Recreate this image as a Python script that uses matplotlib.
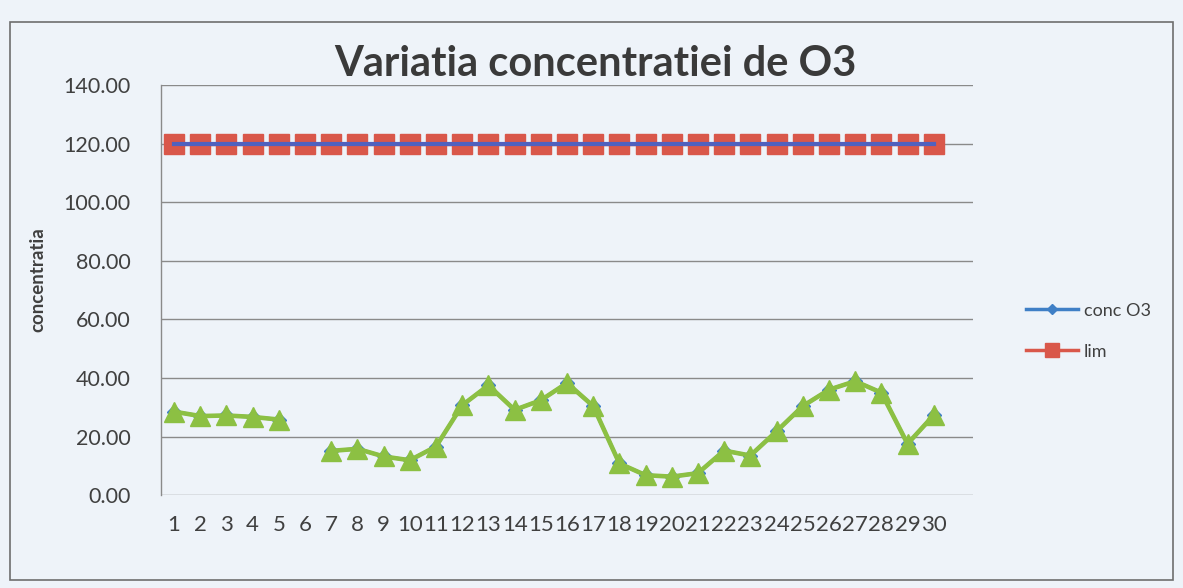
import numpy as np
import matplotlib
matplotlib.use("Agg")
import matplotlib.pyplot as plt
from matplotlib.patches import Rectangle

days = list(range(1, 31))
conc_o3 = [28.5, 27.0, 27.2, 26.7, 25.8, np.nan, 15.1, 15.8, 13.2, 11.9,
           16.6, 30.7, 37.5, 29.1, 32.4, 38.3, 30.4, 10.8, 6.8, 6.3,
           7.5, 15.2, 13.5, 21.8, 30.4, 36.0, 38.9, 35.0, 17.5, 27.3]
lim = [120.0] * 30
yticks = [0, 20, 40, 60, 80, 100, 120, 140]

plt.rcParams['font.family'] = ['Lato', 'DejaVu Sans']
bg = '#eef3f9'
txt = '#404040'

fig = plt.figure(figsize=(11.83, 5.88), dpi=100, facecolor=bg)
ax = fig.add_axes([0.1361, 0.158, 0.6864, 0.697], facecolor=bg)

# outer chart border
fig.patches.append(Rectangle((10/1183, 1-580/588), 1163/1183, 558/588,
                             transform=fig.transFigure, fill=False,
                             edgecolor='#6e6e6e', linewidth=1.2))

x = np.array(days)
ax.plot(x, conc_o3, color='#3f7fc6', marker='D', markersize=7, linewidth=2.5,
        label='conc O3', zorder=3)
ax.plot(x, conc_o3, color='#8cc043', marker='^', markersize=14.5, linewidth=3.3,
        label='_nolegend_', zorder=4)
ax.plot(x, lim, color='#d9574a', marker='s', markersize=14.5, linewidth=2.5,
        label='lim', zorder=3)
ax.plot(x, lim, color='#5061bf', linewidth=3.0, label='_nolegend_', zorder=5)

ax.set_xlim(0.5, 31.5)
ax.set_ylim(0, 140)
ax.set_yticks(yticks)
ax.set_yticklabels([f'{v:.2f}' for v in yticks])
ax.set_xticks(days)
ax.set_xticklabels([str(d) for d in days])
ax.yaxis.grid(True, color='#8a8a8a', linewidth=1.0)
ax.set_axisbelow(True)
for s in ['top', 'right', 'bottom']:
    ax.spines[s].set_visible(False)
ax.spines['left'].set_color('#8a8a8a')
ax.spines['left'].set_linewidth(1.0)
ax.tick_params(axis='both', length=0, colors=txt)
ax.tick_params(axis='y', pad=22, labelsize=15.5)
ax.tick_params(axis='x', pad=14, labelsize=16)

fig.text(0.503, 1-64/588, 'Variatia concentratiei de O3', ha='center', va='center',
         fontsize=30, fontweight='bold', color='#3a3a3a')
fig.text(38/1183, 1-280/588, 'concentratia', rotation=90, ha='center', va='center',
         fontsize=13.5, fontweight='bold', color=txt)

leg = ax.legend(loc='center left', bbox_to_anchor=(1.065, 0.40), frameon=False,
                borderpad=0, borderaxespad=0, handlelength=2.9, handletextpad=0.3,
                labelspacing=1.4, fontsize=13, markerscale=0.7)
for t in leg.get_texts():
    t.set_color(txt)

fig.savefig('out.png', dpi=100, facecolor=bg)
